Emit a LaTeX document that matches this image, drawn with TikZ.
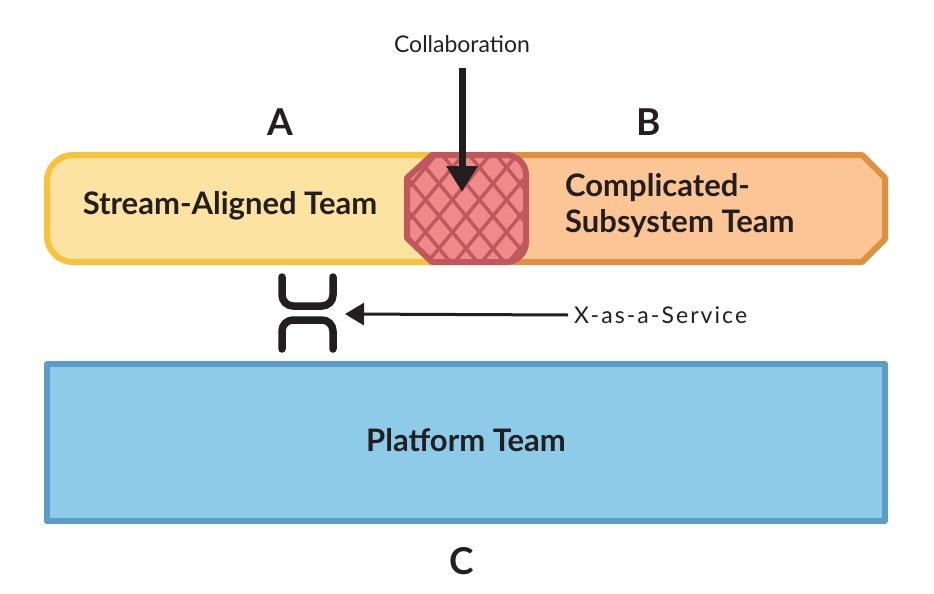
\documentclass[tikz,border=0pt]{standalone}
\usepackage{fontspec}
\setmainfont{Lato}
\usetikzlibrary{arrows.meta}
\definecolor{safill}{HTML}{FDE3A2}
\definecolor{sastroke}{HTML}{F8C33C}
\definecolor{csfill}{HTML}{FBC596}
\definecolor{csstroke}{HTML}{E0913F}
\definecolor{cofill}{HTML}{EF8A8A}
\definecolor{costroke}{HTML}{C0575C}
\definecolor{ptfill}{HTML}{8ECBE8}
\definecolor{ptstroke}{HTML}{5C9CC9}
\definecolor{ink}{HTML}{231F20}
\tikzset{
  teamtext/.style={font=\fontsize{31}{36}\selectfont\bfseries, text=ink},
  letter/.style={font=\fontsize{37}{40}\selectfont\bfseries, text=ink},
  smalltext/.style={font=\fontsize{23}{26}\selectfont, text=ink},
  box/.style={line width=6pt},
}
\begin{document}
\begin{tikzpicture}[x=1pt,y=-1pt,line join=round]
\useasboundingbox (0,0) rectangle (934,594);
% stream-aligned
\draw[box, draw=sastroke, fill=safill, rounded corners=26] (47,155) rectangle (470,262);
% complicated subsystem
\draw[box, draw=csstroke, fill=csfill] (440,155) -- (862,155) -- (885,178) -- (885,239) -- (862,262) -- (440,262) -- cycle;
% collaboration overlap
\def\copath{(407,178) -- (432,155) [rounded corners=20] -- (526,155) -- (526,262) [sharp corners] -- (432,262) -- (407,238) -- cycle}
\fill[cofill] \copath;
\begin{scope}
  \clip \copath;
  \foreach \i in {-8,...,8} {
    \draw[costroke, line width=3.5pt] (466+27*\i-80,120) -- (466+27*\i+80,120+192);
    \draw[costroke, line width=3.5pt] (466+27*\i+80,120) -- (466+27*\i-80,120+192);
  }
\end{scope}
\draw[box, draw=costroke] \copath;
% platform
\draw[box, draw=ptstroke, fill=ptfill] (47,364) rectangle (885,521);
% texts
\node[teamtext] (sat) at (230,206) {Stream-Aligned Team};
\node[teamtext, align=left, anchor=west, inner sep=0pt] (cst) at (565,206) {Complicated-\\Subsystem Team};
\node[teamtext] (pt) at (466,440) {Platform Team};
\node[letter] (la) at (280,122) {A};
\node[letter] (lb) at (649,122) {B};
\node[letter] (lc) at (462,561) {C};
\node[smalltext] (collab) at (462,44) {Collaboration};
\node[smalltext, anchor=west, inner sep=0pt] (xaas) at (574,315) {\addfontfeatures{LetterSpace=9}X-as-a-Service};
% x-as-a-service symbol
\draw[ink, line width=7.5pt, line cap=round, rounded corners=11] (282,277) -- (282,306) -- (333,306) -- (333,277);
\draw[ink, line width=7.5pt, line cap=round, rounded corners=11] (282,349) -- (282,320) -- (333,320) -- (333,349);
\coordinate (xsym) at (345,314);
\coordinate (coltip) at (462,192);
% connectors
\draw[ink, line width=7pt, -{Triangle[length=26pt,width=30pt]}] ([yshift=-12pt]collab.south) -- (coltip);
\draw[ink, line width=3pt, -{Triangle[length=19pt,width=22pt]}] ([xshift=-6pt]xaas.west) -- (xsym);
\end{tikzpicture}
\end{document}
